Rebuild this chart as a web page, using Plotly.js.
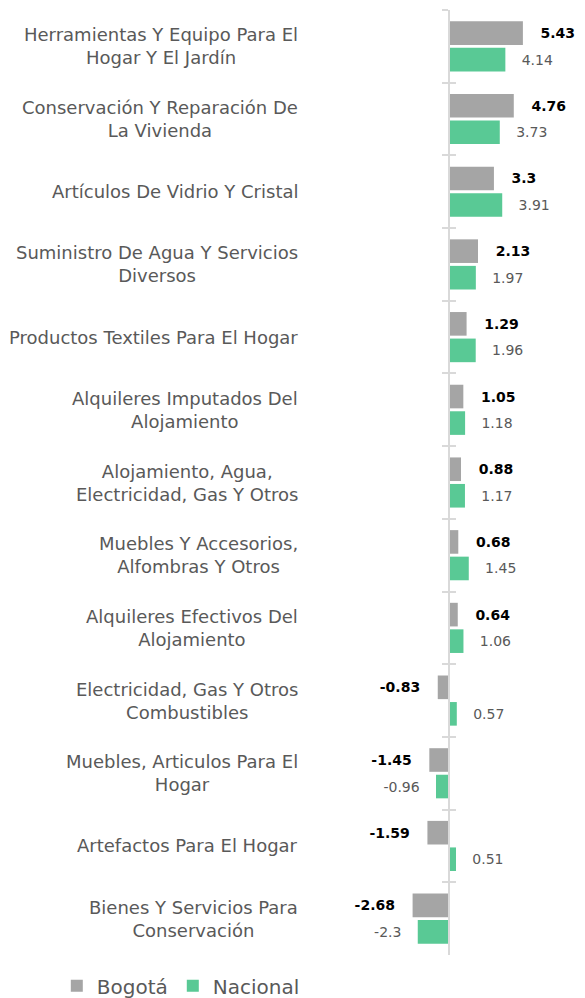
<!DOCTYPE html>
<html>
<head>
<meta charset="utf-8">
<script src="https://cdn.plot.ly/plotly-3.0.1.min.js"></script>
<style>html,body{margin:0;padding:0;background:#fff;}#chart{width:585px;height:998px;}</style>
</head>
<body>
<div id="chart"></div>
<script>
const categories = [
  "Herramientas Y Equipo Para El Hogar Y El Jardín",
  "Conservación Y Reparación De La Vivienda",
  "Artículos De Vidrio Y Cristal",
  "Suministro De Agua Y Servicios Diversos",
  "Productos Textiles Para El Hogar",
  "Alquileres Imputados Del Alojamiento",
  "Alojamiento, Agua, Electricidad, Gas Y Otros",
  "Muebles Y Accesorios, Alfombras Y Otros",
  "Alquileres Efectivos Del Alojamiento",
  "Electricidad, Gas Y Otros Combustibles",
  "Muebles, Articulos Para El Hogar",
  "Artefactos Para El Hogar",
  "Bienes Y Servicios Para Conservación"
];
const categoryLabels = [
  "Herramientas Y Equipo Para El<br>Hogar Y El Jardín",
  "Conservación Y Reparación De<br>La Vivienda",
  "Artículos De Vidrio Y Cristal",
  "Suministro De Agua Y Servicios<br>Diversos",
  "Productos Textiles Para El Hogar",
  "Alquileres Imputados Del<br>Alojamiento",
  "Alojamiento, Agua,<br>Electricidad, Gas Y Otros",
  "Muebles Y Accesorios,<br>Alfombras Y Otros",
  "Alquileres Efectivos Del<br>Alojamiento",
  "Electricidad, Gas Y Otros<br>Combustibles",
  "Muebles, Articulos Para El<br>Hogar",
  "Artefactos Para El Hogar",
  "Bienes Y Servicios Para<br>Conservación"
];
const bogota   = [5.43, 4.76, 3.3, 2.13, 1.29, 1.05, 0.88, 0.68, 0.64, -0.83, -1.45, -1.59, -2.68];
const nacional = [4.14, 3.73, 3.91, 1.97, 1.96, 1.18, 1.17, 1.45, 1.06, 0.57, -0.96, 0.51, -2.3];
const seriesNames = ["Bogotá", "Nacional"];

const FONT = "'DejaVu Sans', sans-serif";
const PAD = "\u00a0\u00a0\u00a0";
const padText = v => v >= 0 ? PAD + String(v) : String(v) + PAD;

const xRange = [-10.59, 9.26];
const zeroPos = (0 - xRange[0]) / (xRange[1] - xRange[0]);
const yRange = [categories.length - 0.5, -0.5];

const traces = [
  {
    type: "bar", orientation: "h", name: seriesNames[0],
    y: categories, x: bogota,
    marker: {color: "#a5a5a5"},
    text: bogota.map(padText), textposition: "outside", constraintext: "none",
    textfont: {family: FONT, size: 14, color: "#000000", weight: "bold"},
    cliponaxis: false, hoverinfo: "x+y"
  },
  {
    type: "bar", orientation: "h", name: seriesNames[1],
    y: categories, x: nacional,
    marker: {color: "#59c995"},
    text: nacional.map(padText), textposition: "outside", constraintext: "none",
    textfont: {family: FONT, size: 14, color: "#595959"},
    cliponaxis: false, hoverinfo: "x+y"
  },
  {
    type: "scatter", mode: "none", y: categories, x: categories.map(() => 0),
    yaxis: "y2", showlegend: false, hoverinfo: "skip"
  }
];

const annotations = categories.map((c, i) => ({
  xref: "paper", yref: "y", x: 0, y: c, xanchor: "right", yanchor: "middle",
  xshift: -5, align: "center", showarrow: false,
  text: categoryLabels[i],
  font: {family: FONT, size: 18, color: "#595959"}
}));

const axisCommon = {
  type: "category", autorange: false, range: yRange, anchor: "free", position: zeroPos,
  tickson: "boundaries", ticklen: 6, tickwidth: 2, tickcolor: "#d9d9d9",
  showticklabels: false, showgrid: false, zeroline: false, fixedrange: true
};

const layout = {
  width: 585, height: 998,
  margin: {l: 305, r: 10, t: 10, b: 43, autoexpand: false},
  paper_bgcolor: "#ffffff", plot_bgcolor: "#ffffff",
  barmode: "group", bargap: 0.27, bargroupgap: 0.11,
  xaxis: {range: xRange, visible: false, fixedrange: true},
  yaxis: Object.assign({}, axisCommon, {ticks: "outside", showline: true, linecolor: "#d9d9d9", linewidth: 2}),
  yaxis2: Object.assign({}, axisCommon, {overlaying: "y", ticks: "inside", showline: false}),
  showlegend: true,
  legend: {
    orientation: "h", xref: "paper", yref: "paper", x: -0.46, xanchor: "center",
    y: -0.012, yanchor: "top", font: {family: FONT, size: 20, color: "#595959"},
    itemwidth: 30, traceorder: "normal"
  },
  annotations: annotations
};

Plotly.newPlot("chart", traces, layout, {displayModeBar: false, responsive: false});
</script>
</body>
</html>
